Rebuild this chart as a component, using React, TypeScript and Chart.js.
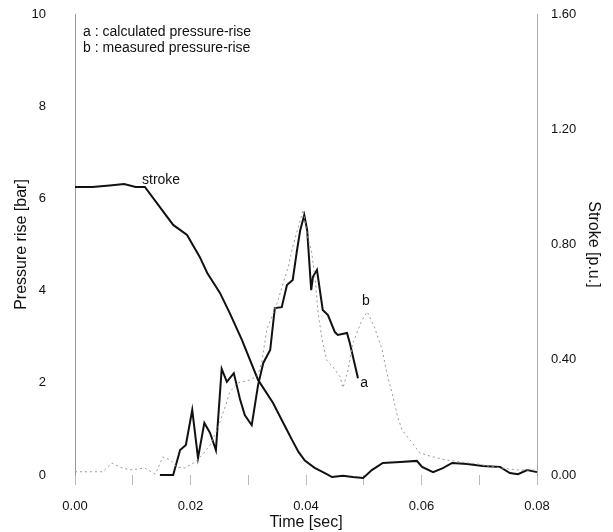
import React, { useEffect, useRef } from "react";
import { Chart, registerables } from "chart.js";

Chart.register(...registerables);

// ---- data (time in sec) ----
const strokeT = [0, 0.003, 0.006, 0.0085, 0.0105, 0.0121, 0.0147, 0.017, 0.0194, 0.0216, 0.0229, 0.0251, 0.0268, 0.0289, 0.0317, 0.0343, 0.0358, 0.0367, 0.0376, 0.0387, 0.0398, 0.0415, 0.0436, 0.0445, 0.0464, 0.0481, 0.0499, 0.0514, 0.0533, 0.0563, 0.0592, 0.0601, 0.062, 0.0637, 0.0653, 0.0679, 0.0706, 0.0736, 0.0753, 0.0767, 0.0783, 0.08];
const strokeV = [1.0, 1.0, 1.005, 1.01, 1.0, 1.0, 0.93, 0.868, 0.833, 0.757, 0.701, 0.632, 0.562, 0.469, 0.33, 0.25, 0.191, 0.156, 0.121, 0.08, 0.05, 0.025, 0.003, -0.007, -0.003, -0.007, -0.01, 0.017, 0.042, 0.045, 0.049, 0.028, 0.01, 0.024, 0.042, 0.038, 0.031, 0.028, 0.007, 0.003, 0.017, 0.01];

const calcT = [0.0147, 0.017, 0.0182, 0.0192, 0.0203, 0.0213, 0.0224, 0.0234, 0.0244, 0.0254, 0.0263, 0.0275, 0.0286, 0.0294, 0.0306, 0.0317, 0.0326, 0.0338, 0.0346, 0.0358, 0.0367, 0.0377, 0.0384, 0.039, 0.0397, 0.0402, 0.0409, 0.0412, 0.0419, 0.0429, 0.0438, 0.045, 0.0455, 0.0471, 0.0476, 0.049];
const calcV = [0, 0, 0.54, 0.65, 1.41, 0.37, 1.13, 0.91, 0.54, 2.3, 2.02, 2.21, 1.63, 1.3, 1.08, 1.95, 2.43, 2.71, 3.62, 3.64, 4.12, 4.23, 4.84, 5.31, 5.64, 5.31, 4.01, 4.3, 4.45, 3.58, 3.47, 3.1, 3.04, 3.08, 2.86, 2.1];

const measT = [0, 0.0014, 0.0048, 0.0064, 0.0078, 0.0095, 0.0121, 0.0139, 0.0152, 0.0165, 0.0177, 0.019, 0.0208, 0.022, 0.0234, 0.0248, 0.026, 0.0268, 0.0282, 0.0303, 0.0317, 0.0324, 0.0332, 0.035, 0.0369, 0.0377, 0.0395, 0.0403, 0.041, 0.0416, 0.0421, 0.0428, 0.0436, 0.0447, 0.0459, 0.0464, 0.0473, 0.0481, 0.0497, 0.0506, 0.0519, 0.0532, 0.054, 0.0549, 0.0558, 0.0566, 0.058, 0.0597, 0.0615, 0.0641, 0.0667, 0.0696, 0.0727, 0.0765, 0.0788, 0.08];
const measV = [0.07, 0.07, 0.07, 0.26, 0.17, 0.11, 0.15, 0.02, 0.39, 0.33, 0.17, 0.15, 0.28, 0.43, 0.65, 1.04, 1.48, 1.8, 2.0, 2.06, 2.17, 2.49, 3.15, 3.73, 4.51, 4.95, 5.75, 5.16, 4.82, 4.23, 3.51, 2.93, 2.49, 2.34, 2.13, 1.89, 2.28, 2.86, 3.36, 3.54, 3.19, 2.71, 2.21, 1.78, 1.3, 0.98, 0.76, 0.48, 0.41, 0.33, 0.28, 0.24, 0.17, 0.11, 0.11, 0.11];

const xTicks = [0, 0.02, 0.04, 0.06, 0.08];
const leftTicks = [0, 2, 4, 6, 8, 10];
const rightTicks = [0, 0.4, 0.8, 1.2, 1.6];

const legendLines = ["a : calculated pressure-rise", "b : measured pressure-rise"];
// annotation texts anchored in data coordinates (time, bar)
const annotations = [
  { text: legendLines[0], t: 0.0014, p: 9.61 },
  { text: legendLines[1], t: 0.0014, p: 9.26 },
  { text: "stroke", t: 0.0116, p: 6.4 },
  { text: "a", t: 0.0494, p: 2.0 },
  { text: "b", t: 0.0497, p: 3.78 },
];

const FONT = "'Liberation Sans', Arial, sans-serif";

const textPlugin = {
  id: "textPlugin",
  afterDatasetsDraw(chart: any) {
    const { ctx, scales } = chart;
    ctx.save();
    ctx.font = `14px ${FONT}`;
    ctx.fillStyle = "#111";
    ctx.textAlign = "left";
    ctx.textBaseline = "middle";
    for (const a of annotations) {
      ctx.fillText(a.text, scales.x.getPixelForValue(a.t), scales.y.getPixelForValue(a.p));
    }
    ctx.restore();
  },
};

export default function App() {
  const ref = useRef<HTMLCanvasElement>(null);
  useEffect(() => {
    if (!ref.current) return;
    Chart.defaults.font.family = FONT;
    const chart = new Chart(ref.current, {
      type: "line",
      data: {
        datasets: [
          {
            label: "b",
            data: measT.map((t, i) => ({ x: t, y: measV[i] })),
            borderColor: "#999",
            borderWidth: 1,
            borderDash: [2, 3],
            pointRadius: 0,
            yAxisID: "y",
            clip: false as any,
          },
          {
            label: "a",
            data: calcT.map((t, i) => ({ x: t, y: calcV[i] })),
            borderColor: "#111",
            borderWidth: 2,
            pointRadius: 0,
            yAxisID: "y",
            clip: false as any,
          },
          {
            label: "stroke",
            data: strokeT.map((t, i) => ({ x: t, y: strokeV[i] })),
            borderColor: "#111",
            borderWidth: 2,
            pointRadius: 0,
            yAxisID: "y1",
            clip: false as any,
          },
        ],
      },
      options: {
        responsive: false,
        animation: false,
        devicePixelRatio: 1,
        layout: { padding: { top: 14, left: 0, right: 0, bottom: 0 } },
        plugins: { legend: { display: false }, tooltip: { enabled: false } },
        scales: {
          x: {
            type: "linear",
            min: 0,
            max: 0.08,
            afterBuildTicks: (s: any) => {
              const arr: any[] = [];
              for (let i = 0; i <= 8; i++) arr.push({ value: i / 100 });
              s.ticks = arr;
            },
            ticks: {
              autoSkip: false,
              maxRotation: 0,
              padding: 14,
              color: "#111",
              font: { size: 13 },
              callback: (v: any) => {
                const f = xTicks.find((x) => Math.abs(x - v) < 1e-9);
                return f !== undefined ? f.toFixed(2) : "";
              },
            },
            grid: { drawOnChartArea: false, drawTicks: true, tickLength: 10, color: "#bbb" },
            border: { display: false },
            title: { display: true, text: "Time [sec]", color: "#111", font: { size: 16 }, padding: { top: 0, bottom: 0 } },
            afterFit: (s: any) => { s.height = 57; },
          },
          y: {
            type: "linear",
            position: "left",
            min: 0,
            max: 10,
            afterBuildTicks: (s: any) => { s.ticks = leftTicks.map((v) => ({ value: v })); },
            ticks: { padding: 0, color: "#111", font: { size: 13 } },
            grid: { display: false, drawTicks: true, tickLength: 29 },
            border: { display: true, color: "#999", dash: [3, 2], width: 1 },
            title: { display: true, text: "Pressure rise [bar]", color: "#111", font: { size: 16 }, padding: { top: 12, bottom: 0 } },
            afterFit: (s: any) => { s.width = 75; },
          },
          y1: {
            type: "linear",
            position: "right",
            min: 0,
            max: 1.6,
            afterBuildTicks: (s: any) => { s.ticks = rightTicks.map((v) => ({ value: v })); },
            ticks: { padding: 0, color: "#111", font: { size: 13 }, callback: (v: any) => Number(v).toFixed(2) },
            grid: { display: false, drawTicks: true, tickLength: 14 },
            border: { display: true, color: "#aaa", dash: [2, 3], width: 1 },
            title: { display: true, text: "Stroke [p.u.]", color: "#111", font: { size: 16 }, padding: { top: 10, bottom: 0 } },
            afterFit: (s: any) => { s.width = 76; },
          },
        },
      },
      plugins: [textPlugin],
    });
    return () => chart.destroy();
  }, []);
  return (
    <div style={{ position: "absolute", left: 0, top: 0, width: 613, height: 532, background: "#fff" }}>
      <canvas ref={ref} width={613} height={532} />
    </div>
  );
}
